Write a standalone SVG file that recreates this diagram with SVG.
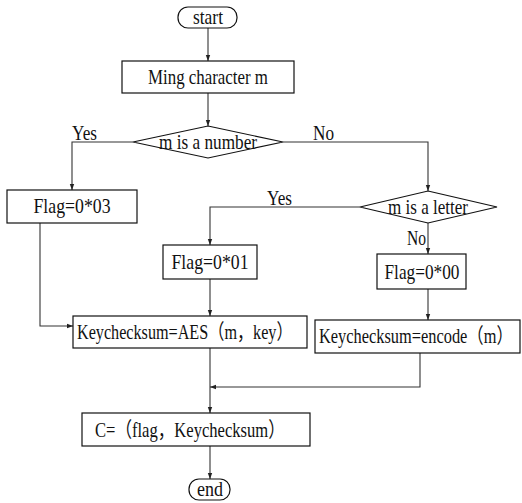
<svg xmlns="http://www.w3.org/2000/svg" width="522" height="503" viewBox="0 0 522 503">
<defs>
<marker id="ah" markerWidth="6" markerHeight="6" refX="6" refY="3" orient="auto" markerUnits="userSpaceOnUse">
<path d="M0,0.8 L6,3 L0,5.2 z" fill="#222"/>
</marker>
<style>
.box{fill:#fff;stroke:#111;stroke-width:1.2}
.t{font-family:"Liberation Serif","Noto Sans CJK SC",serif;font-size:21px;fill:#111}
.m{text-anchor:middle}
.c{fill:none;stroke:#333;stroke-width:1.1;marker-end:url(#ah)}
</style>
</defs>
<rect width="522" height="503" fill="#fff"/>
<g id="connectors">
<path class="c" d="M208,28 V61"/>
<path class="c" d="M208,93 V126"/>
<path class="c" d="M133,142 H72 V190"/>
<path class="c" d="M283,142 H428 V191"/>
<path class="c" d="M360,207 H210 V245"/>
<path class="c" d="M428,223 V254"/>
<path class="c" d="M40,223 V326 H73"/>
<path class="c" d="M210,279 V316"/>
<path class="c" d="M428,289 V320"/>
<path class="c" d="M210,348 V413"/>
<path class="c" d="M420,353 V387 H210"/>
<path class="c" d="M210,446 V479"/>
</g>
<g id="start">
<rect class="box" x="178" y="7" width="59" height="21" rx="10"/>
<text class="t m" x="208" y="24" textLength="30" lengthAdjust="spacingAndGlyphs">start</text>
</g>
<g id="ming">
<rect class="box" x="122" y="61" width="172" height="32"/>
<text class="t m" x="208" y="84" textLength="120" lengthAdjust="spacingAndGlyphs">Ming character m</text>
</g>
<g id="isNumber">
<polygon class="box" points="208,126 283,142 208,158 133,142"/>
<text class="t m" x="208" y="149" textLength="98" lengthAdjust="spacingAndGlyphs">m is a number</text>
</g>
<g id="labels">
<text class="t" x="72" y="140" textLength="25" lengthAdjust="spacingAndGlyphs">Yes</text>
<text class="t" x="313" y="140" textLength="21" lengthAdjust="spacingAndGlyphs">No</text>
<text class="t" x="267" y="205" textLength="25" lengthAdjust="spacingAndGlyphs">Yes</text>
<text class="t" x="407" y="245" textLength="19" lengthAdjust="spacingAndGlyphs">No</text>
</g>
<g id="isLetter">
<polygon class="box" points="428,191 497,207 428,223 360,207"/>
<text class="t m" x="428" y="214" textLength="80" lengthAdjust="spacingAndGlyphs">m is a letter</text>
</g>
<g id="flag03">
<rect class="box" x="7" y="190" width="130" height="33"/>
<text class="t m" x="72" y="213" textLength="77" lengthAdjust="spacingAndGlyphs">Flag=0*03</text>
</g>
<g id="flag01">
<rect class="box" x="163" y="245" width="94" height="34"/>
<text class="t m" x="210" y="269" textLength="77" lengthAdjust="spacingAndGlyphs">Flag=0*01</text>
</g>
<g id="flag00">
<rect class="box" x="377" y="254" width="89" height="35"/>
<text class="t m" x="422" y="279" textLength="75" lengthAdjust="spacingAndGlyphs">Flag=0*00</text>
</g>
<g id="aes">
<rect class="box" x="73" y="316" width="234" height="32"/>
<text class="t" transform="translate(77,339) scale(0.77,1)" x="0" y="0">Keychecksum=AES（m，key）</text>
</g>
<g id="encode">
<rect class="box" x="315" y="320" width="205" height="33"/>
<text class="t" transform="translate(319,343) scale(0.78,1)" x="0" y="0">Keychecksum=encode（m）</text>
</g>
<g id="combine">
<rect class="box" x="82" y="413" width="228" height="33"/>
<text class="t" transform="translate(95,437) scale(0.79,1)" x="0" y="0">C=（flag，Keychecksum）</text>
</g>
<g id="end">
<rect class="box" x="189" y="479" width="41" height="21" rx="10"/>
<text class="t m" x="210" y="496" textLength="26" lengthAdjust="spacingAndGlyphs">end</text>
</g>
</svg>
